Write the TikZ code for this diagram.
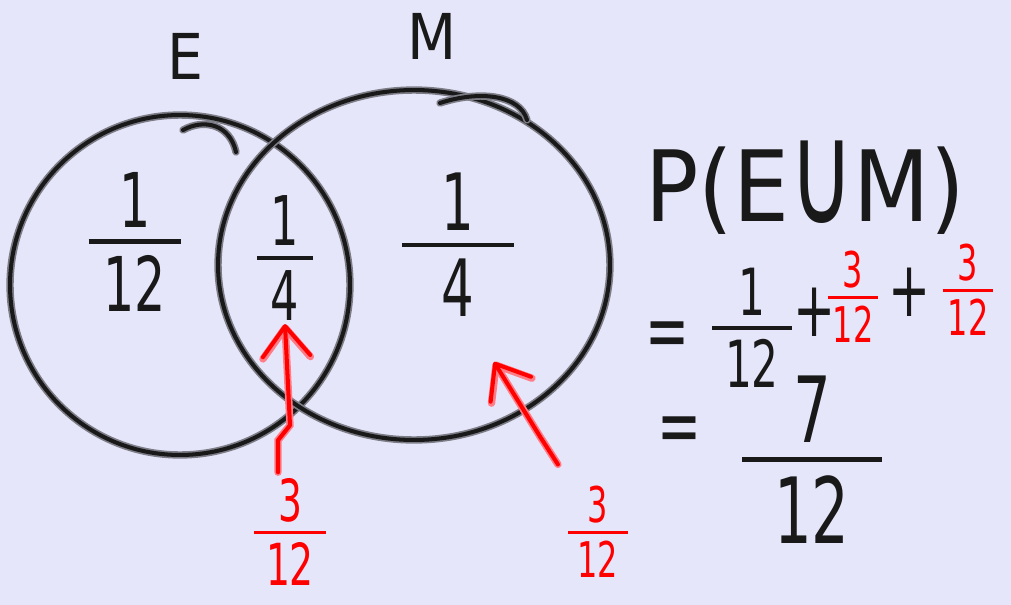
\documentclass[tikz,border=0pt]{standalone}
\usepackage{fontspec}
\setmainfont[FakeStretch=0.65]{DejaVu Sans}
\newfontfamily\widehand[FakeStretch=0.9]{DejaVu Sans}
\usetikzlibrary{arrows.meta, positioning, shapes.geometric}

\definecolor{paper}{RGB}{230,230,250}
\definecolor{ink}{RGB}{25,25,25}
\definecolor{inkhalo}{RGB}{125,125,135}
\definecolor{pen}{RGB}{255,0,0}
\definecolor{penhalo}{RGB}{255,125,135}

% hand written fraction, optional room beside the bar
\newcommand{\hfrac}[3][0.2em]{\vbox{\offinterlineskip\halign{\hfil\hskip#1\relax##\hskip#1\relax\hfil\cr#2\cr\noalign{\kern0.15em\hrule height0.06em\kern0.15em}#3\cr}}}

\begin{document}
\begin{tikzpicture}[x=0.02cm, y=-0.02cm,
  stroke/.style={draw=ink, line width=2.3pt, line cap=round, line join=round,
    preaction={draw=inkhalo, line width=4.2pt, line cap=round}},
  redstroke/.style={draw=pen, line width=2.3pt, line cap=round, line join=round,
    preaction={draw=penhalo, line width=4.2pt, line cap=round}},
  redarrow/.style={redstroke, -{Straight Barb[length=0.6cm, width=0.95cm, round]}},
  hand/.style={text=ink, inner sep=2pt},
  redhand/.style={text=pen, inner sep=2pt}]
  \useasboundingbox[fill=paper] (0,0) rectangle (1011,605);

  % the two sets
  \node[circle, stroke, minimum size=6.8cm] (setE) at (180,285) {};
  \node[ellipse, stroke, minimum width=7.84cm, minimum height=7cm] (setM) at (414,265) {};
  \draw[stroke] (183,130) .. controls (205,118) and (230,125) .. (236,152);
  \draw[stroke] (440,103) .. controls (480,90) and (520,95) .. (527,120);

  % labels
  \node[hand, font=\widehand\fontsize{36}{40}\selectfont] (labE) at (185,56) {E};
  \node[hand, font=\widehand\fontsize{36}{40}\selectfont] (labM) at (432,36) {M};

  % region values
  \node[hand, font=\fontsize{43}{50}\selectfont] (onlyE) at (135,242) {\hfrac{1}{12}};
  \node[hand, font=\fontsize{39}{45}\selectfont] (both) at (285,258) {\hfrac{1}{4}};
  \node[hand, font=\fontsize{45}{52}\selectfont] (onlyM) at (458,245) {\hfrac[0.5em]{1}{4}};

  % working
  \node[hand, font=\widehand\fontsize{56}{64}\selectfont] (union) at (805,188)
    {P(E\raisebox{-0.02em}{\scalebox{1}[1.45]{∪}}M)};
  \node[hand, font=\fontsize{46}{52}\selectfont] (eqA) at (668,340) {=};
  \node[hand, font=\fontsize{37}{44}\selectfont] (sumE) at (752,328) {\hfrac{1}{12}};
  \node[hand, font=\fontsize{44}{50}\selectfont] (plusA) at (815,312) {+};
  \node[redhand, font=\fontsize{28}{34}\selectfont] (sumB) at (853,297) {\hfrac[0.1em]{3}{12}};
  \node[hand, font=\fontsize{44}{50}\selectfont] (plusB) at (910,292) {+};
  \node[redhand, font=\fontsize{28}{34}\selectfont] (sumM) at (968,290) {\hfrac[0.1em]{3}{12}};
  \node[hand, font=\fontsize{46}{52}\selectfont] (eqB) at (680,435) {=};
  \node[hand, font=\fontsize{52}{60}\selectfont] (total) at (812,460) {\hfrac[0.35em]{7}{12}};

  % red notes
  \node[redhand, font=\fontsize{33}{40}\selectfont] (noteB) at (290,532) {\hfrac{3}{12}};
  \node[redhand, font=\fontsize{28}{34}\selectfont] (noteM) at (598,532) {\hfrac{3}{12}};
  \coordinate (tipM) at (494,362);
  \draw[redarrow] (noteB.north) ++(-12,-2) -- ++(0,-32) -- ++(12,-15) -- (both.south);
  \draw[redarrow] (noteM.north west) ++(-6,-18) -- ++(-18,-28) -- (tipM);
\end{tikzpicture}
\end{document}
